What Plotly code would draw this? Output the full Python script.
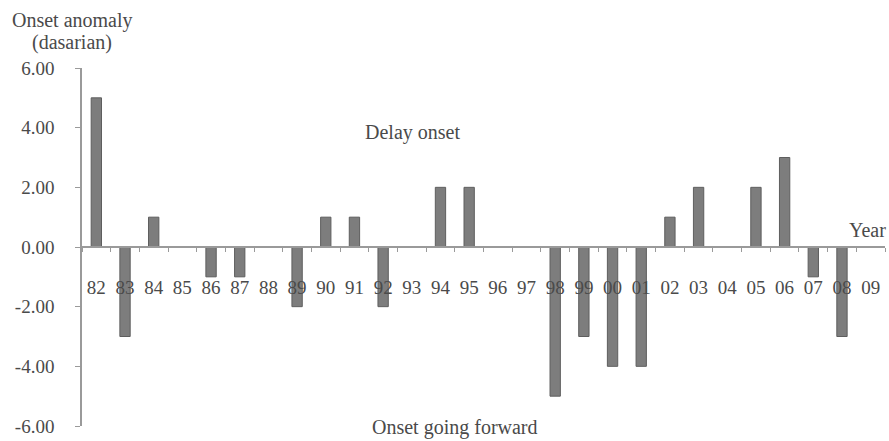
import plotly.graph_objects as go

years = ["82", "83", "84", "85", "86", "87", "88", "89", "90", "91", "92", "93", "94", "95",
         "96", "97", "98", "99", "00", "01", "02", "03", "04", "05", "06", "07", "08", "09"]
anomaly = [5, -3, 1, 0, -1, -1, 0, -2, 1, 1, -2, 0, 2, 2,
           0, 0, -5, -3, -4, -4, 1, 2, 0, 2, 3, -1, -3, 0]
y_tick_vals = [6, 4, 2, 0, -2, -4, -6]
y_tick_text = ["6.00", "4.00", "2.00", "0.00", "-2.00", "-4.00", "-6.00"]

FONT = "Liberation Serif"
TXT = "#4a4a4a"
AX = "#9a9a9a"

fig = go.Figure()
fig.add_trace(go.Bar(
    x=years, y=anomaly,
    marker=dict(color="#7d7d7d", line=dict(color="#5e5e5e", width=1)),
))

fig.update_layout(
    width=889, height=441,
    margin=dict(l=82, r=4, t=68, b=11),
    paper_bgcolor="white", plot_bgcolor="white",
    showlegend=False,
    bargap=0.64,
    font=dict(family=FONT, size=20, color=TXT),
    xaxis=dict(
        type="category", range=[-0.5, 27.5],
        anchor="free", position=0.5,
        showline=True, linecolor=AX, linewidth=1.5,
        ticks="outside", ticklen=4, tickcolor=AX, tickson="boundaries",
        showgrid=False, zeroline=False,
        tickangle=0,
        tickfont=dict(family=FONT, size=19, color=TXT),
        ticklabelstandoff=23,
    ),
    yaxis=dict(
        range=[-6, 6], domain=[0, 1],
        tickvals=y_tick_vals, ticktext=y_tick_text,
        showline=True, linecolor=AX, linewidth=1.5,
        ticks="outside", ticklen=5, tickcolor=AX,
        showgrid=False, zeroline=False,
        tickfont=dict(family=FONT, size=19, color=TXT),
        ticklabelstandoff=17,
    ),
    annotations=[
        dict(text="Onset anomaly", xref="paper", yref="paper",
             x=-0.012, y=1.133, xanchor="center", yanchor="middle", showarrow=False,
             font=dict(family=FONT, size=20, color=TXT)),
        dict(text="(dasarian)", xref="paper", yref="paper",
             x=-0.012, y=1.071, xanchor="center", yanchor="middle", showarrow=False,
             font=dict(family=FONT, size=20, color=TXT)),
        dict(text="Delay onset", xref="paper", yref="paper",
             x=0.411, y=0.820, xanchor="center", yanchor="middle", showarrow=False,
             font=dict(family=FONT, size=20, color=TXT)),
        dict(text="Onset going forward", xref="paper", yref="paper",
             x=0.465, y=-0.003, xanchor="center", yanchor="middle", showarrow=False,
             font=dict(family=FONT, size=20, color=TXT)),
        dict(text="Year", xref="paper", yref="paper",
             x=1.004, y=0.547, xanchor="right", yanchor="middle", showarrow=False,
             font=dict(family=FONT, size=20, color=TXT)),
    ],
)

fig.write_html(
    "out.html",
    config={"displayModeBar": False},
    post_script="document.body.style.margin='0';document.body.style.overflow='hidden';",
)
